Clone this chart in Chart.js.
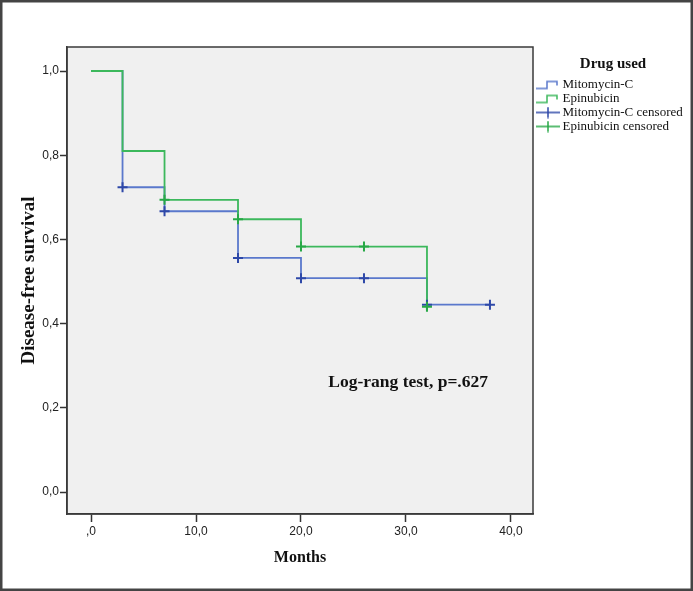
<!DOCTYPE html>
<html>
<head>
<meta charset="utf-8">
<script src="https://cdn.jsdelivr.net/npm/chart.js@4/dist/chart.umd.min.js"></script>
<style>
  html, body { margin: 0; padding: 0; background: #fff; }
  #wrap { width: 693px; height: 591px; position: relative; }
</style>
</head>
<body>
<div id="wrap"><canvas id="km"></canvas></div>
<script>
// Kaplan-Meier steps (months, survival)
const mitoTimes = [0, 3, 7, 14, 20, 32, 38];
const mitoSurv  = [1.0, 0.724, 0.667, 0.556, 0.508, 0.445, 0.445];
const epiTimes  = [0, 3, 7, 14, 20, 32];
const epiSurv   = [1.0, 0.81, 0.694, 0.648, 0.583, 0.44];

// censored marks
const mitoCensTimes = [3, 7, 14, 20, 26, 32, 38];
const mitoCensSurv  = [0.724, 0.667, 0.556, 0.508, 0.508, 0.445, 0.445];
const epiCensTimes  = [7, 14, 20, 26, 32];
const epiCensSurv   = [0.694, 0.648, 0.583, 0.583, 0.44];

const seriesLabels = ["Mitomycin-C", "Epinubicin", "Mitomycin-C censored", "Epinubicin censored"];
const xTickValues = [0, 10, 20, 30, 40];
const yTickValues = [0, 0.2, 0.4, 0.6, 0.8, 1.0];
const annotText = "Log-rang test, p=.627";
const annotX = 22.6, annotY = 0.26;

const BLUE = "#5a78cc", BLUE_MARK = "#2e48a8";
const GREEN = "#3cb85c", GREEN_MARK = "#27a846";

function pts(xs, ys){ return xs.map((x, i) => ({x, y: ys[i]})); }

// legend symbols, drawn shifted right inside a 30px canvas
function stepIcon(color){
  const c = document.createElement("canvas");
  c.width = 30; c.height = 12;
  const g = c.getContext("2d");
  g.strokeStyle = color; g.lineWidth = 1.5;
  g.beginPath();
  g.moveTo(6, 10); g.lineTo(17, 10); g.lineTo(17, 3); g.lineTo(27, 3); g.lineTo(27, 7);
  g.stroke();
  return c;
}
function crossIcon(color){
  const c = document.createElement("canvas");
  c.width = 30; c.height = 12;
  const g = c.getContext("2d");
  g.strokeStyle = color; g.lineWidth = 1.5;
  g.beginPath();
  g.moveTo(6, 6); g.lineTo(30, 6);
  g.moveTo(18, 0.5); g.lineTo(18, 11.5);
  g.stroke();
  return c;
}
const icons = [stepIcon(BLUE), stepIcon(GREEN), crossIcon(BLUE_MARK), crossIcon(GREEN_MARK)];

const framePlugin = {
  id: "frame",
  afterInit(chart){
    // fixed legend width so the plot area ends where it does in the picture
    const lg = chart.legend;
    const fit = lg.fit.bind(lg);
    lg.fit = function(){ fit(); this.width = 160; };
  },
  beforeDraw(chart){
    const {ctx, chartArea: a} = chart;
    ctx.save();
    ctx.fillStyle = "#fff";
    ctx.fillRect(0, 0, chart.width, chart.height);
    ctx.fillStyle = "#f0f0f0";
    ctx.fillRect(a.left, a.top, a.right - a.left, a.bottom - a.top);
    ctx.restore();
  },
  afterDatasetsDraw(chart){
    const {ctx, scales} = chart;
    ctx.save();
    ctx.font = "bold 17.5px 'Liberation Serif', 'Times New Roman', serif";
    ctx.fillStyle = "#111";
    ctx.textAlign = "left";
    ctx.textBaseline = "middle";
    ctx.fillText(annotText, scales.x.getPixelForValue(annotX), scales.y.getPixelForValue(annotY));
    ctx.restore();
  },
  afterDraw(chart){
    const {ctx, chartArea: a} = chart;
    ctx.save();
    ctx.strokeStyle = "#3a3a3a";
    ctx.lineWidth = 1.5;
    ctx.strokeRect(a.left, a.top, a.right - a.left, a.bottom - a.top);
    ctx.lineWidth = 2.5;
    ctx.strokeStyle = "#444";
    ctx.strokeRect(1.25, 1.25, chart.width - 2.5, chart.height - 2.5);
    ctx.restore();
  }
};

new Chart(document.getElementById("km"), {
  type: "line",
  data: {
    datasets: [
      {label: seriesLabels[0], data: pts(mitoTimes, mitoSurv), stepped: "before",
       borderColor: BLUE, borderWidth: 1.8, pointRadius: 0, order: 2, pointStyle: icons[0]},
      {label: seriesLabels[1], data: pts(epiTimes, epiSurv), stepped: "before",
       borderColor: GREEN, borderWidth: 1.8, pointRadius: 0, order: 1, pointStyle: icons[1]},
      {label: seriesLabels[2], data: pts(mitoCensTimes, mitoCensSurv), showLine: false,
       pointStyle: "cross", pointRadius: 5, pointBorderWidth: 2, pointBorderColor: BLUE_MARK, order: -1},
      {label: seriesLabels[3], data: pts(epiCensTimes, epiCensSurv), showLine: false,
       pointStyle: "cross", pointRadius: 5, pointBorderWidth: 2, pointBorderColor: GREEN_MARK, order: -2}
    ]
  },
  options: {
    responsive: true,
    maintainAspectRatio: false,
    animation: false,
    events: [],
    layout: {padding: {top: 47, left: 0, right: 0, bottom: 0}},
    scales: {
      x: {
        type: "linear",
        min: -2.29, max: 42.1,
        afterBuildTicks: s => { s.ticks = xTickValues.map(v => ({value: v})); },
        afterFit: s => { s.height = 77; },
        grid: {drawOnChartArea: false, drawTicks: true, tickLength: 8, tickColor: "#333", tickWidth: 1.5},
        border: {display: true, color: "#3a3a3a", width: 1.5},
        ticks: {
          padding: 2, color: "#222", maxRotation: 0,
          font: {family: "'Liberation Sans', Arial, sans-serif", size: 12},
          callback: v => v === 0 ? ",0" : v.toFixed(1).replace(".", ",")
        },
        title: {display: true, text: "Months", color: "#111",
          font: {family: "'Liberation Serif', 'Times New Roman', serif", size: 16, weight: "bold"},
          padding: {top: 0, bottom: 24}}
      },
      y: {
        type: "linear",
        min: -0.052, max: 1.057,
        afterBuildTicks: s => { s.ticks = yTickValues.map(v => ({value: v})); },
        afterFit: s => { s.width = 67; },
        grid: {drawOnChartArea: false, drawTicks: true, tickLength: 7, tickColor: "#333", tickWidth: 1.5},
        border: {display: true, color: "#3a3a3a", width: 1.5},
        ticks: {
          padding: 1, color: "#222",
          font: {family: "'Liberation Sans', Arial, sans-serif", size: 12},
          callback: v => v.toFixed(1).replace(".", ",")
        },
        title: {display: true, text: "Disease-free survival", color: "#111",
          font: {family: "'Liberation Serif', 'Times New Roman', serif", size: 19, weight: "bold"},
          padding: {top: 18, bottom: 0}}
      }
    },
    plugins: {
      tooltip: {enabled: false},
      legend: {
        position: "right",
        align: "start",
        title: {display: true, text: "Drug used", color: "#111",
          font: {family: "'Liberation Serif', 'Times New Roman', serif", size: 15, weight: "bold"},
          padding: {top: 10, bottom: 2}},
        labels: {
          usePointStyle: true,
          pointStyleWidth: 22,
          padding: 1,
          color: "#111",
          font: {family: "'Liberation Serif', 'Times New Roman', serif", size: 13, lineHeight: 1},
          sort: (a, b) => a.datasetIndex - b.datasetIndex,
          generateLabels: chart => {
            const items = Chart.defaults.plugins.legend.labels.generateLabels(chart);
            items.forEach(it => { it.pointStyle = icons[it.datasetIndex]; });
            return items;
          }
        }
      }
    }
  },
  plugins: [framePlugin]
});
</script>
</body>
</html>
